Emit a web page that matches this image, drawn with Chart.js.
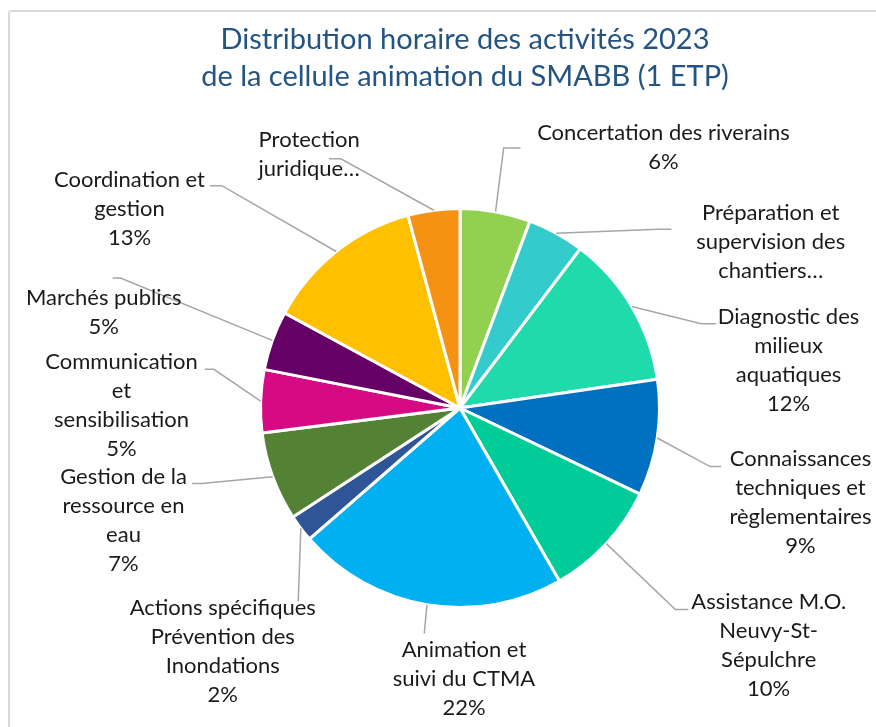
<!DOCTYPE html>
<html>
<head>
<meta charset="utf-8">
<script src="https://cdn.jsdelivr.net/npm/chart.js@4.4.1/dist/chart.umd.min.js"></script>
<style>
  html, body { margin: 0; padding: 0; background: #fff; overflow: hidden; }
  #frame { position: absolute; left: 8px; top: 10px; width: 1000px; height: 1000px;
           border: 2px solid #d9d9d9; border-radius: 3px; }
  #pie { position: absolute; left: 0; top: 0; }
</style>
</head>
<body>
<div id="frame"></div>
<canvas id="pie" width="876" height="727"></canvas>
<script>
const titleLines = ["Distribution horaire des activités 2023", "de la cellule animation du SMABB (1 ETP)"];
// categories, clockwise from 12 o'clock (multi-line as shown in the chart)
const categories = [
  ["Concertation des riverains"],
  ["Préparation et", "supervision des", "chantiers…"],
  ["Diagnostic des", "milieux", "aquatiques"],
  ["Connaissances", "techniques et", "règlementaires"],
  ["Assistance M.O.", "Neuvy-St-", "Sépulchre"],
  ["Animation et", "suivi du CTMA"],
  ["Actions spécifiques", "Prévention des", "Inondations"],
  ["Gestion de la", "ressource en", "eau"],
  ["Communication", "et", "sensibilisation"],
  ["Marchés publics"],
  ["Coordination et", "gestion"],
  ["Protection", "juridique…"]
];
// share of time (%)
const shares = [5.7, 4.6, 12.4, 9.4, 9.6, 21.9, 2.2, 7.2, 5.1, 4.8, 12.9, 4.2];
const colors = ["#92D050", "#33CBCC", "#1FDAAB", "#0070C0", "#00CC99", "#00B0F0",
                "#2F5597", "#548235", "#D60B84", "#660066", "#FFC000", "#F59211"];
// truncated labels show no percentage
const showPct = [true, false, true, true, true, true, true, true, true, true, true, false];

// label layout, px relative to pie centre at radius 201: text centre, leader bend, leader end
const labelText = [[205,-263],[313,-167],[331,-48],[343,95],[311,239],[4,273],
                   [-239,245],[-339,113],[-341,-3],[-359,-96],[-333,-201],[-152,-256]];
const leaderBend = [[44,-262],[200,-180],[243,-85],[252,59],[217,203],[-36,227],
                    [-163,195],[-260,76],[-248,-39],[-342,-131],[-240,-224],[-120,-251]];
const leaderEnd = [[61,-262],[213,-180],[258,-85],[263,59],[230,203],[-36,227],
                   [-163,195],[-270,76],[-257,-39],[-350,-131],[-252,-224],[-132,-251]];

const labelFont = '22px Lato';
const lineGap = 29;

const outsideLabels = {
  id: 'outsideLabels',
  afterDatasetsDraw(chart) {
    const ctx = chart.ctx;
    const meta = chart.getDatasetMeta(0);
    const total = shares.reduce((a, b) => a + b, 0);
    ctx.save();
    // title
    ctx.font = '29px Lato';
    ctx.fillStyle = '#245482';
    ctx.textAlign = 'center';
    ctx.textBaseline = 'middle';
    titleLines.forEach((t, j) => ctx.fillText(t, 465, 40 + j * 37));

    meta.data.forEach((arc, i) => {
      const p = arc.getProps(['x', 'y', 'startAngle', 'endAngle', 'outerRadius'], true);
      const k = p.outerRadius / 201;
      const mid = (p.startAngle + p.endAngle) / 2;
      // leader line
      ctx.strokeStyle = '#a6a6a6';
      ctx.lineWidth = 1.5;
      ctx.beginPath();
      ctx.moveTo(p.x + Math.cos(mid) * p.outerRadius, p.y + Math.sin(mid) * p.outerRadius);
      ctx.lineTo(p.x + leaderBend[i][0] * k, p.y + leaderBend[i][1] * k);
      ctx.lineTo(p.x + leaderEnd[i][0] * k, p.y + leaderEnd[i][1] * k);
      ctx.stroke();
      // text
      const lines = categories[i].slice();
      if (showPct[i]) lines.push(Math.round(shares[i] / total * 100) + '%');
      ctx.font = labelFont;
      ctx.fillStyle = '#1a1a1a';
      const cx = p.x + labelText[i][0] * k;
      const cy = p.y + labelText[i][1] * k;
      const top = cy - (lines.length - 1) * lineGap / 2;
      lines.forEach((t, j) => ctx.fillText(t, cx, top + j * lineGap));
    });
    ctx.restore();
  }
};

new Chart(document.getElementById('pie'), {
  type: 'pie',
  data: {
    labels: categories,
    datasets: [{
      data: shares,
      backgroundColor: colors,
      borderColor: '#ffffff',
      borderWidth: 3
    }]
  },
  options: {
    responsive: false,
    animation: false,
    layout: { padding: { top: 207, left: 259, right: 215, bottom: 118 } },
    plugins: {
      legend: { display: false },
      tooltip: { enabled: false },
      title: { display: false }
    }
  },
  plugins: [outsideLabels]
});
</script>
</body>
</html>
